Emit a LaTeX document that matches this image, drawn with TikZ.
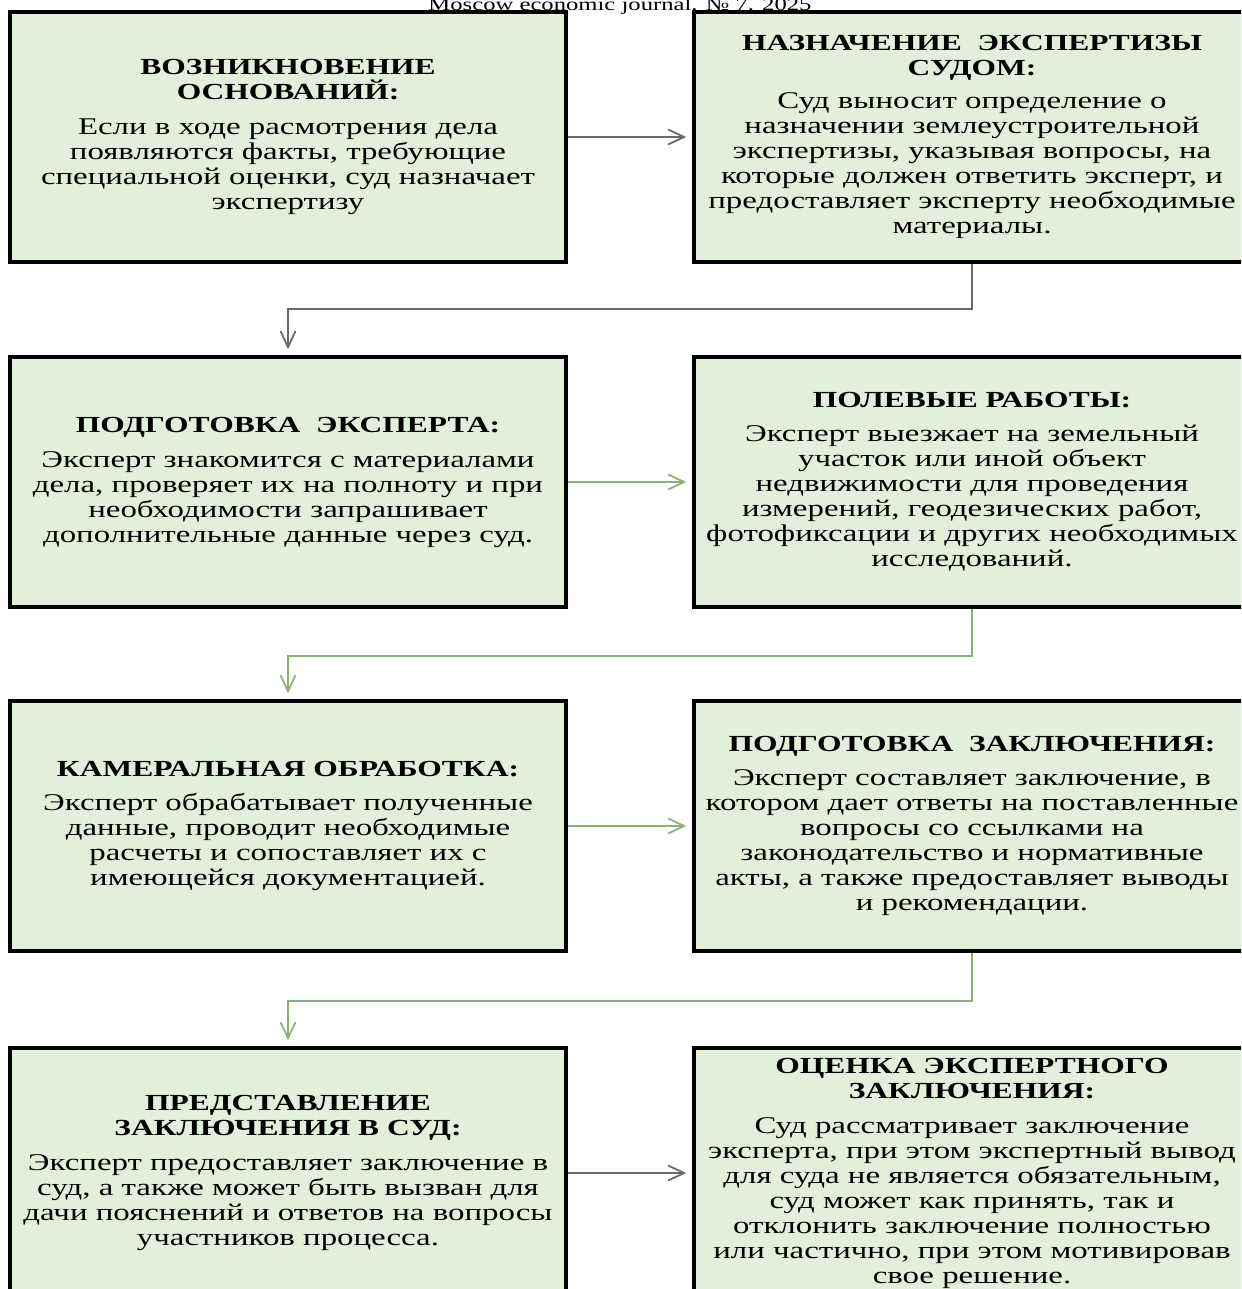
\documentclass[tikz,border=0pt]{standalone}
\usepackage{fontspec}
\setmainfont{Liberation Serif}[FakeStretch=1.37]
\usetikzlibrary{arrows.meta}
\definecolor{boxfill}{RGB}{226,239,218}
\definecolor{linkgreen}{RGB}{143,176,116}
\definecolor{linkgray}{RGB}{105,105,105}
\newcommand{\stagehead}[1]{{\fontsize{23}{25}\selectfont\bfseries #1}}
\tikzset{
  stagebox/.style={draw=black, line width=3.5pt, fill=boxfill, minimum width=556pt,
    minimum height=250pt, inner sep=0pt, align=center, font=\fontsize{24}{25}\selectfont},
  link/.style={line width=1.8pt, -{Straight Barb[length=16pt,width=15pt,line width=1.8pt]},
    shorten >=6pt},
}
\begin{document}
\begin{tikzpicture}[x=1pt, y=-1pt]
	\useasboundingbox (0,0) rectangle (1241,1289);
	\clip (0,0) rectangle (1241,1289);
	\node[anchor=base, font=\fontsize{18}{22}\selectfont] (header) at (620,11) {Moscow economic journal. № 7. 2025};
	% row 1
	\node[stagebox] (osnov)   at (288,137)  {\stagehead{ВОЗНИКНОВЕНИЕ}\\\stagehead{ОСНОВАНИЙ:}\\[10pt]Если в ходе расмотрения дела\\появляются факты, требующие\\специальной оценки, суд назначает\\экспертизу};
	\node[stagebox] (naznach) at (972,137)  {\stagehead{НАЗНАЧЕНИЕ\ \ ЭКСПЕРТИЗЫ}\\\stagehead{СУДОМ:}\\[8pt]Суд выносит определение о\\назначении землеустроительной\\экспертизы, указывая вопросы, на\\которые должен ответить эксперт, и\\предоставляет эксперту необходимые\\материалы.};
	% row 2
	\node[stagebox] (podgot)  at (288,482)  {\stagehead{ПОДГОТОВКА\ \ ЭКСПЕРТА:}\\[10pt]Эксперт знакомится с материалами\\дела, проверяет их на полноту и при\\необходимости запрашивает\\дополнительные данные через суд.};
	\node[stagebox] (polev)   at (972,482)  {\stagehead{ПОЛЕВЫЕ РАБОТЫ:}\\[9pt]Эксперт выезжает на земельный\\участок или иной объект\\недвижимости для проведения\\измерений, геодезических работ,\\фотофиксации и других необходимых\\исследований.};
	% row 3
	\node[stagebox] (kamer)   at (288,826)  {\stagehead{КАМЕРАЛЬНАЯ ОБРАБОТКА:}\\[9pt]Эксперт обрабатывает полученные\\данные, проводит необходимые\\расчеты и сопоставляет их с\\имеющейся документацией.};
	\node[stagebox] (zakl)    at (972,826)  {\stagehead{ПОДГОТОВКА\ \ ЗАКЛЮЧЕНИЯ:}\\[9pt]Эксперт составляет заключение, в\\котором дает ответы на поставленные\\вопросы со ссылками на\\законодательство и нормативные\\акты, а также предоставляет выводы\\и рекомендации.};
	% row 4
	\node[stagebox] (predst)  at (288,1173) {\stagehead{ПРЕДСТАВЛЕНИЕ}\\\stagehead{ЗАКЛЮЧЕНИЯ В СУД:}\\[10pt]Эксперт предоставляет заключение в\\суд, а также может быть вызван для\\дачи пояснений и ответов на вопросы\\участников процесса.};
	\node[stagebox] (ocenka)  at (972,1173) {\stagehead{ОЦЕНКА ЭКСПЕРТНОГО}\\\stagehead{ЗАКЛЮЧЕНИЯ:}\\[10pt]Суд рассматривает заключение\\эксперта, при этом экспертный вывод\\для суда не является обязательным,\\суд может как принять, так и\\отклонить заключение полностью\\или частично, при этом мотивировав\\свое решение.};
	% links
	\draw[link, linkgray]  (osnov)  -- (naznach);
	\draw[link, linkgray]  (naznach.south) -- ++(0,45) -| (podgot.north);
	\draw[link, linkgreen] (podgot) -- (polev);
	\draw[link, linkgreen] (polev.south)   -- ++(0,47) -| (kamer.north);
	\draw[link, linkgreen] (kamer)  -- (zakl);
	\draw[link, linkgreen] (zakl.south)    -- ++(0,48) -| (predst.north);
	\draw[link, linkgray]  (predst) -- (ocenka);
\end{tikzpicture}
\end{document}
